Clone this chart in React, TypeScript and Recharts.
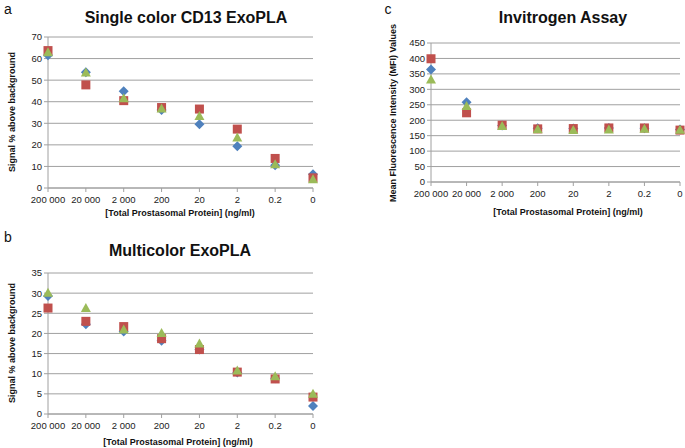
import React from "react";
import {
  ScatterChart,
  Scatter,
  XAxis,
  YAxis,
  CartesianGrid,
} from "recharts";

const categories = ["200 000", "20 000", "2 000", "200", "20", "2", "0.2", "0"];

// panel a - Single color CD13 ExoPLA
const aBlue = [61.5, 53.7, 44.9, 36.2, 29.5, 19.3, 10.6, 6.4];
const aRed = [63.7, 47.8, 40.5, 37.3, 36.6, 27.3, 13.7, 4.7];
const aGreen = [62.9, 53.6, 41.6, 36.8, 33.4, 23.4, 11.0, 4.0];
const aTicks = [0, 10, 20, 30, 40, 50, 60, 70];

// panel b - Multicolor ExoPLA
const bBlue = [29.3, 22.3, 20.5, 18.2, 16.0, 10.3, 8.9, 2.0];
const bRed = [26.3, 23.0, 21.7, 18.7, 16.0, 10.4, 8.7, 4.2];
const bGreen = [30.1, 26.3, 21.0, 20.1, 17.5, 10.8, 9.4, 5.0];
const bTicks = [0, 5, 10, 15, 20, 25, 30, 35];

// panel c - Invitrogen Assay
const cBlue = [364, 258, 183, 174, 173, 175, 174, 170];
const cRed = [399, 224, 184, 172, 173, 175, 175, 168];
const cGreen = [332, 246, 181, 171, 168, 170, 172, 169];
const cTicks = [0, 50, 100, 150, 200, 250, 300, 350, 400, 450];

const FONT = "'Liberation Sans', Arial, sans-serif";
const BLUE = "#4F81BD";
const RED = "#C0504D";
const GREEN = "#9BBB59";
const GRID = "#a0a0a0";

const toRows = (vals: number[]) => vals.map((v, i) => ({ x: i, y: v }));

// excel-like markers
const Diamond = (p: any) => (
  <polygon
    points={`${p.cx},${p.cy - 5} ${p.cx + 5},${p.cy} ${p.cx},${p.cy + 5} ${p.cx - 5},${p.cy}`}
    fill={BLUE}
  />
);
const Square = (p: any) => (
  <rect x={p.cx - 4.5} y={p.cy - 4.5} width={9} height={9} fill={RED} />
);
const Triangle = (p: any) => (
  <polygon
    points={`${p.cx},${p.cy - 5} ${p.cx + 5},${p.cy + 4} ${p.cx - 5},${p.cy + 4}`}
    fill={GREEN}
  />
);

function Panel(props: {
  left: number;
  top: number;
  width: number;
  height: number;
  margin: { top: number; right: number; bottom: number; left: number };
  ticks: number[];
  blue: number[];
  red: number[];
  green: number[];
}) {
  const { ticks } = props;
  return (
    <div style={{ position: "absolute", left: props.left, top: props.top }}>
      <ScatterChart width={props.width} height={props.height} margin={props.margin}>
        <CartesianGrid vertical={false} stroke={GRID} />
        <XAxis
          type="number"
          dataKey="x"
          domain={[0, 7]}
          ticks={[0, 1, 2, 3, 4, 5, 6, 7]}
          tickFormatter={(i: number) => categories[i]}
          interval={0}
          height={22}
          stroke={GRID}
          tickSize={4}
          tickMargin={4}
          tick={{ fontSize: 9.5, fill: "#222", fontFamily: FONT }}
        />
        <YAxis
          type="number"
          dataKey="y"
          domain={[ticks[0], ticks[ticks.length - 1]]}
          ticks={ticks}
          interval={0}
          width={30}
          stroke={GRID}
          tickSize={4}
          tick={{ fontSize: 9.5, fill: "#222", fontFamily: FONT }}
        />
        <Scatter data={toRows(props.blue)} shape={Diamond} isAnimationActive={false} />
        <Scatter data={toRows(props.red)} shape={Square} isAnimationActive={false} />
        <Scatter data={toRows(props.green)} shape={Triangle} isAnimationActive={false} />
      </ScatterChart>
    </div>
  );
}

const text = (
  content: string,
  x: number,
  y: number,
  size: number,
  bold: boolean,
  rotate = false
) => (
  <div
    style={{
      position: "absolute",
      left: x,
      top: y,
      transform: `translate(-50%, -50%)${rotate ? " rotate(-90deg)" : ""}`,
      whiteSpace: "nowrap",
      fontFamily: FONT,
      fontSize: size,
      fontWeight: bold ? "bold" : "normal",
      color: "#111",
    }}
  >
    {content}
  </div>
);

export default function App() {
  return (
    <div
      style={{
        position: "absolute",
        left: 0,
        top: 0,
        width: 685,
        height: 448,
        background: "#fff",
        overflow: "hidden",
      }}
    >
      <Panel
        left={0}
        top={0}
        width={340}
        height={220}
        margin={{ top: 37, right: 27, bottom: 10, left: 18 }}
        ticks={aTicks}
        blue={aBlue}
        red={aRed}
        green={aGreen}
      />
      <Panel
        left={0}
        top={220}
        width={340}
        height={228}
        margin={{ top: 53, right: 27, bottom: 12, left: 18 }}
        ticks={bTicks}
        blue={bBlue}
        red={bRed}
        green={bGreen}
      />
      <Panel
        left={350}
        top={0}
        width={335}
        height={220}
        margin={{ top: 43, right: 5, bottom: 16, left: 51 }}
        ticks={cTicks}
        blue={cBlue}
        red={cRed}
        green={cGreen}
      />

      {text("a", 8, 9, 14, false)}
      {text("Single color CD13 ExoPLA", 186, 18, 16, true)}
      {text("Signal % above background", 12, 112, 9, true, true)}
      {text("[Total Prostasomal Protein] (ng/ml)", 180, 213, 9, true)}

      {text("b", 8, 237, 14, false)}
      {text("Multicolor ExoPLA", 180, 251, 16, true)}
      {text("Signal % above background", 12, 343, 9, true, true)}
      {text("[Total Prostasomal Protein] (ng/ml)", 178, 442, 9, true)}

      {text("c", 388, 9, 14, false)}
      {text("Invitrogen Assay", 563, 18, 16, true)}
      {text("Mean Fluorescence Intensity (MFI) Values", 393, 113, 9, true, true)}
      {text("[Total Prostasomal Protein] (ng/ml)", 568, 212, 9, true)}
    </div>
  );
}
